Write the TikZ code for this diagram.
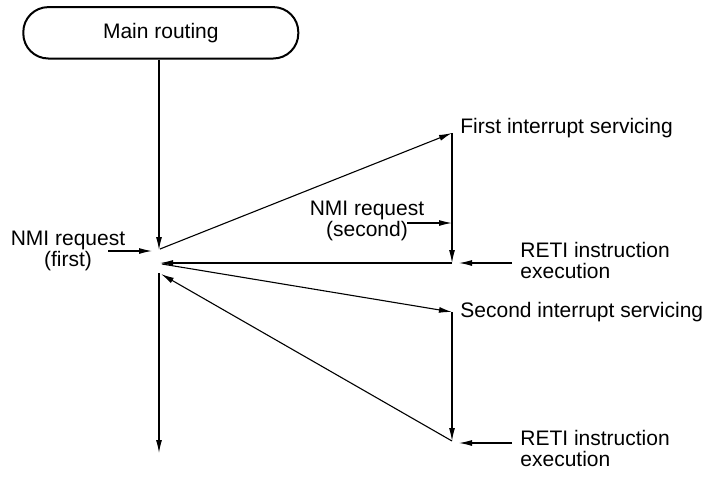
\documentclass[tikz,border=0pt]{standalone}
\usepackage{fontspec}
\setmainfont{Liberation Sans}
\usetikzlibrary{arrows.meta}
\begin{document}
\begin{tikzpicture}[x=0.5pt,y=-0.5pt,
  every node/.style={font=\fontsize{10.5}{10.4}\selectfont, inner sep=0pt},
  line/.style={line width=0.55pt, draw=black},
  arr/.style={line, -{Latex[length=6.5pt,width=3pt]}},
  terminal/.style={draw, line width=1pt, rounded corners=12.5pt, minimum width=137.5pt, minimum height=25.7pt}]
\useasboundingbox (0,0) rectangle (707,478);
% terminal
\node[terminal] (main) at (160.8,32.8) {Main routing};
% key points
\coordinate (A) at (159,250);
\coordinate (Aout) at (160,249);
\coordinate (B) at (160,263);
\coordinate (Bout) at (162,264);
\coordinate (C) at (159,273);
\coordinate (Cin) at (161,274);
\coordinate (D) at (159,453);
\coordinate (F1) at (452,133);
\coordinate (F2) at (452,263);
\coordinate (S1) at (452,312);
\coordinate (S2) at (452,441);
\coordinate (n1s) at (108,251);
\coordinate (n1e) at (152,251);
\coordinate (n2s) at (407,223);
\coordinate (n2e) at (452,223);
\coordinate (r1s) at (512,263);
\coordinate (r1e) at (459,263);
\coordinate (r2s) at (512,443);
\coordinate (r2e) at (459,443);
% connectors
\draw[arr] (main.south -| A) -- (A);
\draw[arr] (n1s) -- (n1e);
\draw[arr] (Aout) -- (F1);
\draw[arr] (F1) -- (F2);
\draw[arr] (n2s) -- (n2e);
\draw[arr] (F2) -- (B);
\draw[arr] (r1s) -- (r1e);
\draw[arr] (Bout) -- (S1);
\draw[arr] (S1) -- (S2);
\draw[arr] (S2) -- (Cin);
\draw[arr] (C) -- (D);
\draw[arr] (r2s) -- (r2e);
% labels
\node[anchor=north, align=center] (nmi1) at (68,231) {NMI request\\(first)};
\node[anchor=north, align=center] (nmi2) at (367,201) {NMI request\\(second)};
\node[anchor=base west] (first) at (460,133) {First interrupt servicing};
\node[anchor=base west] (second) at (460,317) {Second interrupt servicing};
\node[anchor=north west, align=left] (reti1) at (520,242) {RETI instruction\\execution};
\node[anchor=north west, align=left] (reti2) at (520,430) {RETI instruction\\execution};
\end{tikzpicture}
\end{document}
